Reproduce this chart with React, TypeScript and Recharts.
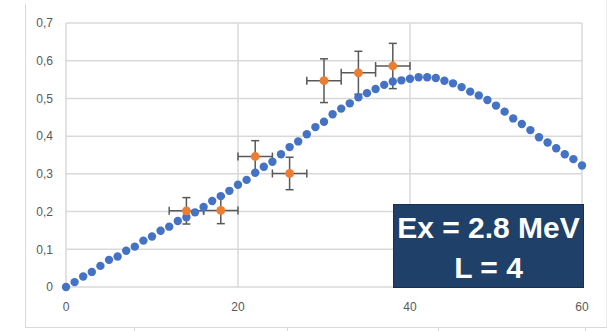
import React from 'react';
import { ScatterChart, Scatter, XAxis, YAxis, CartesianGrid, ErrorBar } from 'recharts';

// calculated curve, one point per unit of x (x = index)
const curveY = [
  0, 0.013, 0.028, 0.04, 0.056, 0.072, 0.081, 0.096, 0.107, 0.123,
  0.134, 0.149, 0.16, 0.175, 0.185, 0.198, 0.212, 0.228, 0.241, 0.255,
  0.271, 0.284, 0.303, 0.319, 0.332, 0.352, 0.371, 0.386, 0.405, 0.424,
  0.438, 0.458, 0.473, 0.487, 0.503, 0.514, 0.525, 0.536, 0.545, 0.548,
  0.552, 0.556, 0.556, 0.554, 0.547, 0.54, 0.53, 0.518, 0.508, 0.496,
  0.481, 0.465, 0.447, 0.432, 0.416, 0.397, 0.383, 0.368, 0.352, 0.339,
  0.322,
];

// measured points
const measX = [14, 18, 22, 26, 30, 34, 38];
const measY = [0.202, 0.203, 0.346, 0.301, 0.547, 0.568, 0.586];
const measErrX = [2, 2, 2, 2, 2, 2, 2];
const measErrY = [0.035, 0.035, 0.042, 0.043, 0.058, 0.057, 0.06];

const xTicks = [0, 20, 40, 60];
const yTicks = [0, 0.1, 0.2, 0.3, 0.4, 0.5, 0.6, 0.7];

const curveData = curveY.map((y, i) => ({ x: i, y }));
const measData = measX.map((x, i) => ({ x, y: measY[i], ex: measErrX[i], ey: measErrY[i] }));

const tickStyle = { fontFamily: 'Liberation Sans, Arial, sans-serif', fontSize: 12, fill: '#595959' };
const GRID = '#d9d9d9';

const fmtY = (v: number) => (v === 0 ? '0' : v.toFixed(1).replace('.', ','));

export default function App() {
  return (
    <div style={{ position: 'absolute', left: 0, top: 0, width: 607, height: 331, background: '#fff' }}>
      {/* outer frame lines */}
      <div style={{ position: 'absolute', left: 25, top: 4, width: 1, height: 323, background: GRID }} />
      <div style={{ position: 'absolute', left: 25, top: 327, width: 582, height: 1, background: GRID }} />
      <div style={{ position: 'absolute', left: 606, top: 0, width: 1, height: 327, background: '#eeeeee' }} />
      {[134, 287, 438, 585].map((x) => (
        <div key={x} style={{ position: 'absolute', left: x, top: 327, width: 1, height: 4, background: GRID }} />
      ))}

      <ScatterChart width={607} height={331} margin={{ top: 23, right: 25, bottom: 14, left: 26 }}>
        <CartesianGrid stroke={GRID} strokeWidth={1.5} />
        <XAxis
          type="number"
          dataKey="x"
          domain={[0, 60]}
          ticks={xTicks}
          axisLine={false}
          tickLine={false}
          tickMargin={9}
          height={30}
          tick={tickStyle}
        />
        <YAxis
          type="number"
          dataKey="y"
          domain={[0, 0.7]}
          ticks={yTicks}
          axisLine={false}
          tickLine={false}
          tickMargin={7}
          width={40}
          tick={tickStyle}
          tickFormatter={fmtY}
        />
        <Scatter
          data={curveData}
          isAnimationActive={false}
          shape={(p: any) => <circle cx={p.cx} cy={p.cy} r={4.2} fill="#4472C4" />}
        />
        <Scatter
          data={measData}
          isAnimationActive={false}
          shape={(p: any) => <circle cx={p.cx} cy={p.cy} r={4.4} fill="#ED7D31" />}
        >
          <ErrorBar dataKey="ex" direction="x" width={4} stroke="#595959" strokeWidth={1.5} />
          <ErrorBar dataKey="ey" direction="y" width={4} stroke="#595959" strokeWidth={1.5} />
        </Scatter>
      </ScatterChart>

      <div
        style={{
          position: 'absolute',
          left: 393,
          top: 204,
          width: 191,
          height: 84,
          boxSizing: 'border-box',
          background: '#1F4068',
          border: '1px solid #16304f',
          color: '#fff',
          fontFamily: 'Liberation Sans, Arial, sans-serif',
          fontWeight: 'bold',
          fontSize: 30,
          lineHeight: '40px',
          textAlign: 'center',
          paddingTop: 3,
          whiteSpace: 'nowrap',
        }}
      >
        <div>Ex = 2.8 MeV</div>
        <div>L = 4</div>
      </div>
    </div>
  );
}
